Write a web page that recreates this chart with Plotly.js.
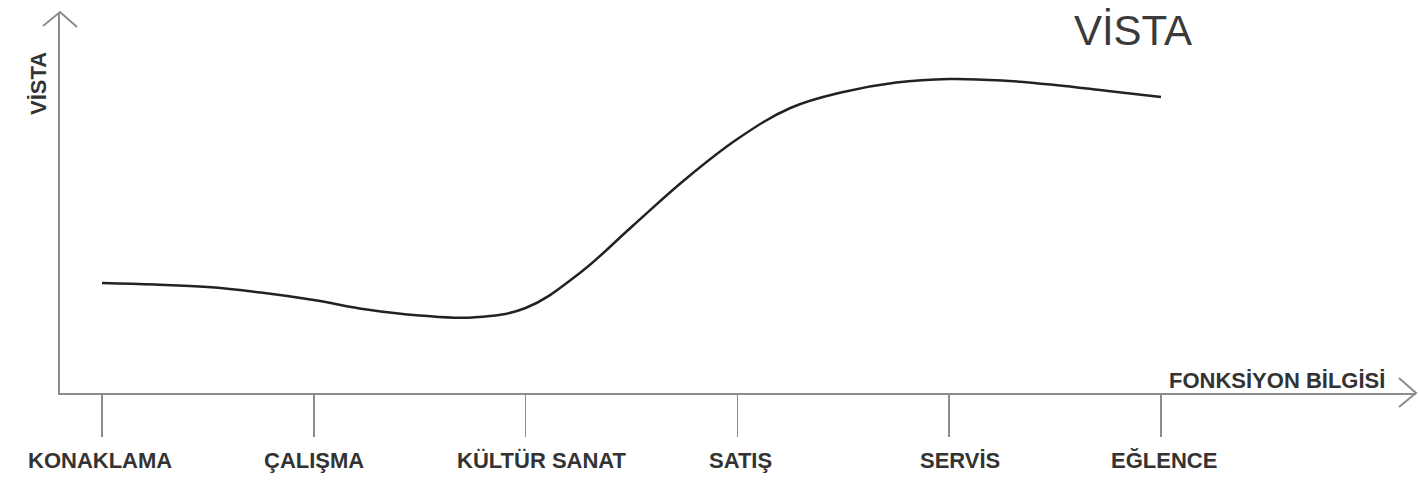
<!DOCTYPE html>
<html>
<head>
<meta charset="utf-8">
<script src="https://cdn.plot.ly/plotly-3.0.1.min.js"></script>
<style>html,body{margin:0;padding:0;background:#fff;}#chart{width:1419px;height:487px;}</style>
</head>
<body>
<div id="chart"></div>
<script>
// Categories along the x axis (tick positions 0..5)
const categories = ["KONAKLAMA", "ÇALIŞMA", "KÜLTÜR SANAT", "SATIŞ", "SERVİS", "EĞLENCE"];
const categoryPos = [0, 1, 2, 3, 4, 5];
// Curve sample points (x in category units, y = height above axis)
const curveX = [0, 0.25, 0.5, 0.75, 1.0, 1.25, 1.5, 1.75, 2.0, 2.25, 2.5, 2.75, 3.0, 3.25, 3.5, 3.75, 4.0, 4.25, 4.5, 4.75, 5.0];
const curveY = [110, 108.5, 106, 100.5, 93, 83.5, 77.5, 75.5, 85, 119, 166, 213, 254, 285, 301, 310.5, 314, 312.5, 308, 302, 296];
const titleText = "VİSTA";
const yTitle = "VİSTA";
const xTitle = "FONKSİYON BİLGİSİ";
// small horizontal label offsets (px) as drawn in the reference
const labelShift = [-2, 0, 16, 3, 11, 3];

const W = 1419, H = 487;
const margin = {l: 60, r: 3, t: 12, b: 94};
const plotW = W - margin.l - margin.r, plotH = H - margin.t - margin.b;
const tick0px = 102, tick5px = 1161;
const unit = (tick5px - tick0px) / 5;
const xr = [(margin.l - tick0px) / unit, (W - margin.r - tick0px) / unit];

const labelFont = {family: "Liberation Sans, Arial, sans-serif", size: 22, color: "#333", weight: 700};

const annotations = categories.map((c, i) => ({
  text: c, x: categoryPos[i], xref: "x", y: -0.178, yref: "paper",
  xanchor: "center", yanchor: "middle", xshift: labelShift[i],
  showarrow: false, font: labelFont
}));
annotations.push({
  text: yTitle, xref: "paper", yref: "paper", x: (38 - margin.l) / plotW, y: (393 - 84) / plotH,
  xanchor: "center", yanchor: "middle", textangle: -90, showarrow: false,
  font: {family: "Liberation Sans, Arial, sans-serif", size: 22, color: "#333", weight: 700}
});
annotations.push({
  text: xTitle, xref: "paper", yref: "paper", x: (1167 - margin.l) / plotW, y: (393 - 380) / plotH,
  xanchor: "left", yanchor: "middle", showarrow: false,
  font: {family: "Liberation Sans, Arial, sans-serif", size: 22, color: "#333", weight: 700}
});

const ax = (px) => (px - margin.l) / plotW;
const ay = (py) => (393 - py) / plotH;
const arrowLine = {color: "#8c8c8c", width: 2};
const shapes = [
  {type: "path", xref: "paper", yref: "paper", line: arrowLine,
   path: `M ${ax(1399)} ${ay(378)} L ${ax(1416)} ${ay(393)} L ${ax(1399)} ${ay(407)}`},
  {type: "path", xref: "paper", yref: "paper", line: arrowLine,
   path: `M ${ax(43)} ${ay(26)} L ${ax(60)} ${ay(12)} L ${ax(77)} ${ay(27)}`}
];

const trace = {
  x: curveX, y: curveY, type: "scatter", mode: "lines",
  line: {shape: "spline", smoothing: 1.1, color: "#222", width: 2.5},
  hoverinfo: "skip"
};

const layout = {
  width: W, height: H, margin: margin,
  paper_bgcolor: "#fff", plot_bgcolor: "#fff",
  showlegend: false,
  title: {text: titleText, xref: "container", yref: "container", x: 1133 / W, y: 1 - 30 / H,
          xanchor: "center", yanchor: "middle",
          font: {family: "Liberation Sans, Arial, sans-serif", size: 42, color: "#3a3a3a"}},
  xaxis: {range: xr, showgrid: false, zeroline: false, showline: true, linecolor: "#8c8c8c", linewidth: 2,
          tickvals: categoryPos, ticks: "outside", ticklen: 42, tickwidth: 1.5, tickcolor: "#8c8c8c",
          showticklabels: false, fixedrange: true},
  yaxis: {range: [0, plotH], showgrid: false, zeroline: false, showline: true, linecolor: "#8c8c8c", linewidth: 2,
          ticks: "", showticklabels: false, fixedrange: true},
  annotations: annotations,
  shapes: shapes
};

Plotly.newPlot("chart", [trace], layout, {displayModeBar: false, staticPlot: true});
</script>
</body>
</html>
